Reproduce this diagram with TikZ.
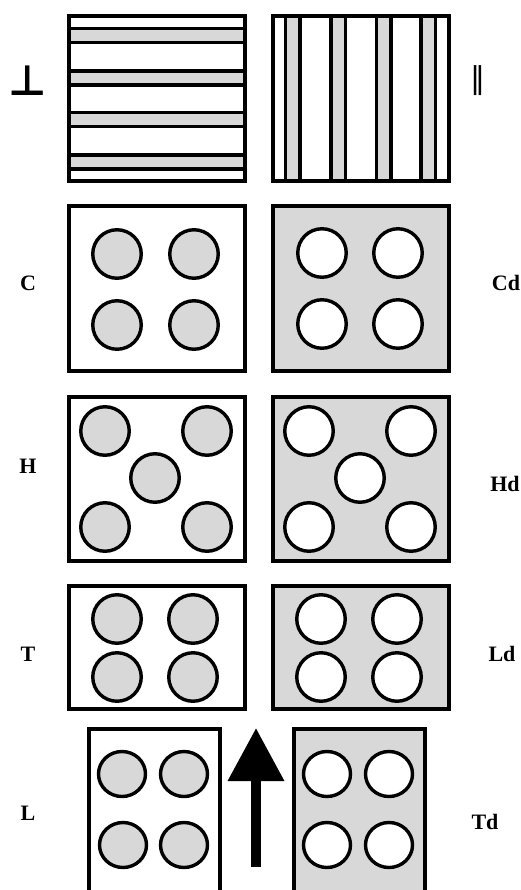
\documentclass[tikz,border=0pt]{standalone}
\usepackage{fontspec}
\setmainfont{Liberation Serif}
\newfontfamily\symfont{DejaVu Sans}
\usetikzlibrary{arrows.meta,shapes.geometric}
\definecolor{lgray}{RGB}{216,216,216}
\tikzset{
  panel/.style={draw=black, line width=4pt, inner sep=0pt, outer sep=0pt},
  wpanel/.style={panel, fill=white},
  gpanel/.style={panel, fill=lgray},
  band/.style={draw=black, line width=3.5pt, fill=lgray, inner sep=0pt, outer sep=0pt},
  gdot/.style={circle, draw=black, line width=3.4pt, fill=lgray, minimum size=48.5pt, inner sep=0pt},
  wdot/.style={circle, draw=black, line width=3.4pt, fill=white, minimum size=48.5pt, inner sep=0pt},
  gell/.style={ellipse, draw=black, line width=3.4pt, fill=lgray, minimum width=47pt, minimum height=45pt, inner sep=0pt},
  well/.style={ellipse, draw=black, line width=3.4pt, fill=white, minimum width=47pt, minimum height=45pt, inner sep=0pt},
  lab/.style={font=\bfseries\fontsize{22pt}{22pt}\selectfont, inner sep=0pt}
}
\begin{document}
\begin{tikzpicture}[x=1pt,y=-1pt]
\clip (0,0) rectangle (521,890);
\fill[white] (0,0) rectangle (521,890);
% row 1
\node[wpanel, minimum width=176pt, minimum height=165pt] (p1l) at (157,98.5) {};
\node[wpanel, minimum width=176pt, minimum height=165pt] (p1r) at (361,98.5) {};
\foreach \y [count=\i] in {28.7,71,112.7,155} {
  \node[band, minimum width=176pt, minimum height=13.8pt, anchor=north west] (hb\i) at (69,\y) {};
}
\foreach \x [count=\i] in {285.7,331,376.3,421} {
  \node[band, minimum width=14.5pt, minimum height=165pt, anchor=north west] (vb\i) at (\x,16) {};
}
\node[font=\symfont\bfseries\fontsize{42pt}{42pt}\selectfont, inner sep=0pt] (perp) at (28,81) {⊥};
\node[font=\symfont\fontsize{30pt}{30pt}\selectfont, inner sep=0pt] (par) at (478,81) {‖};
% row 2
\node[wpanel, minimum width=176pt, minimum height=165pt] (p2l) at (157,288.5) {};
\node[gpanel, minimum width=176pt, minimum height=165pt] (p2r) at (361,288.5) {};
\node[gdot] (c1) at (117,254) {};
\node[gdot] (c2) at (194,254) {};
\node[gdot] (c3) at (117,325) {};
\node[gdot] (c4) at (194,325) {};
\node[wdot] (cd1) at (322,253) {};
\node[wdot] (cd2) at (398,253) {};
\node[wdot] (cd3) at (322,324) {};
\node[wdot] (cd4) at (398,324) {};
\node[lab] (lC) at (28,283) {C};
\node[lab] (lCd) at (506,283) {Cd};
% row 3
\node[wpanel, minimum width=176pt, minimum height=164pt] (p3l) at (157,479) {};
\node[gpanel, minimum width=176pt, minimum height=164pt] (p3r) at (361,479) {};
\node[gdot] (h1) at (105,431) {};
\node[gdot] (h2) at (207,431) {};
\node[gdot] (h3) at (155,478) {};
\node[gdot] (h4) at (105,527) {};
\node[gdot] (h5) at (207,527) {};
\node[wdot] (hd1) at (309,431) {};
\node[wdot] (hd2) at (411,431) {};
\node[wdot] (hd3) at (360,478) {};
\node[wdot] (hd4) at (309,527) {};
\node[wdot] (hd5) at (411,527) {};
\node[lab] (lH) at (28,466) {H};
\node[lab] (lHd) at (505,484) {Hd};
% row 4
\node[wpanel, minimum width=176pt, minimum height=123pt] (p4l) at (157,647.5) {};
\node[gpanel, minimum width=176pt, minimum height=123pt] (p4r) at (361,647.5) {};
\node[gdot] (t1) at (117,619) {};
\node[gdot] (t2) at (193,619) {};
\node[gdot] (t3) at (117,677) {};
\node[gdot] (t4) at (193,677) {};
\node[wdot] (ld1) at (321,619) {};
\node[wdot] (ld2) at (397,619) {};
\node[wdot] (ld3) at (321,677) {};
\node[wdot] (ld4) at (397,677) {};
\node[lab] (lT) at (28,654) {T};
\node[lab] (lLd) at (502,654) {Ld};
% row 5
\node[wpanel, minimum width=131pt, minimum height=180pt, anchor=north] (p5l) at (154.5,729) {};
\node[gpanel, minimum width=131pt, minimum height=180pt, anchor=north] (p5r) at (359.5,729) {};
\node[gell] (l1) at (122,774) {};
\node[gell] (l2) at (184,774) {};
\node[gell] (l3) at (123,845) {};
\node[gell] (l4) at (184,845) {};
\node[well] (td1) at (327,774) {};
\node[well] (td2) at (389,774) {};
\node[well] (td3) at (327,845) {};
\node[well] (td4) at (389,845) {};
\node[lab] (lL) at (28,813) {L};
\node[lab] (lTd) at (485,822) {Td};
% arrow
\coordinate (atail) at (256,867);
\coordinate (ahead) at (256,728);
\draw[line width=10pt, -{Triangle[length=53pt,width=54pt]}] (atail) -- (ahead);
\end{tikzpicture}
\end{document}
